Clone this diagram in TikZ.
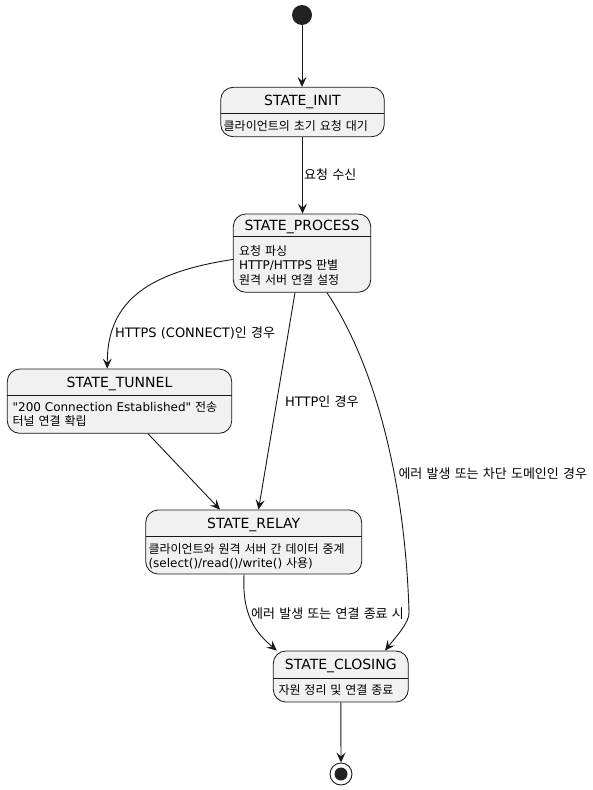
\documentclass[tikz,border=0pt]{standalone}
\usepackage{fontspec}
\setmainfont{DejaVu Sans}[Ligatures=TeXOff]
\newfontfamily\krfont{Noto Sans CJK KR}[Scale=1.0, WordSpace=1.7]
\newfontfamily\krlabelfont{Noto Sans CJK KR}[Scale=1.0, WordSpace=1.45]
\newcommand\hk[1]{{\krfont #1}}
\newcommand\hl[1]{{\krlabelfont #1}}
\usetikzlibrary{arrows.meta,calc}
\definecolor{boxfill}{HTML}{F1F1F1}
\definecolor{lineclr}{HTML}{181818}
\definecolor{dotclr}{HTML}{222222}
\tikzset{
  statebox/.style={draw=lineclr, fill=boxfill, rounded corners=12.5pt, line width=0.8pt, inner sep=0pt},
  titletext/.style={font=\fontsize{14}{16}\selectfont, anchor=base, inner sep=0pt, text=black},
  bodytext/.style={font=\fontsize{12}{14}\selectfont, anchor=base west, inner sep=0pt, text=black},
  edgelabel/.style={font=\fontsize{13}{15}\selectfont, anchor=base west, inner sep=0pt, text=black},
  conn/.style={draw=lineclr, line width=0.9pt, -{Stealth[length=10pt,width=9pt,inset=4pt]}},
  divider/.style={draw=lineclr, line width=0.8pt},
}
% name, left, top, right, bottom, divider y, title
\newcommand\mkstate[7]{%
  \node[statebox, minimum width={(#4-#2)*1pt}, minimum height={(#5-#3)*1pt}] (#1) at ({(#2+#4)/2},{(#3+#5)/2}) {};
  \draw[divider] (#2,#6) -- (#4,#6);
  \node[titletext] (#1-title) at ({(#2+#4)/2},{(#3+#6)/2+5}) {#7};
}
\begin{document}
\begin{tikzpicture}[x=1pt,y=-1pt]
\useasboundingbox[fill=white] (0,0) rectangle (593,790);

% start / end
\node[circle, fill=dotclr, minimum size=20pt, inner sep=0pt] (start) at (302,15) {};
\node[circle, draw=lineclr, fill=white, line width=0.9pt, minimum size=22pt, inner sep=0pt] (endo) at (341,774) {};
\node[circle, fill=dotclr, minimum size=13pt, inner sep=0pt] (endi) at (341,774) {};

% states
\mkstate{init}{220.7}{87.3}{384.3}{136.7}{113.3}{STATE\_INIT}
\node[bodytext] (init-b1) at (223.5,130) {\hk{클라이언트의 초기 요청 대기}};

\mkstate{process}{233.3}{214}{370.7}{292.3}{236.7}{STATE\_PROCESS}
\node[bodytext] (process-b1) at (239,255) {\hk{요청 파싱}};
\node[bodytext] (process-b2) at (239,269.5) {HTTP/HTTPS \hk{판별}};
\node[bodytext] (process-b3) at (239,284) {\hk{원격 서버 연결 설정}};

\mkstate{tunnel}{7.3}{369}{231.7}{433.3}{395.7}{STATE\_TUNNEL}
\node[bodytext] (tunnel-b1) at (12.5,411.5) {"200 Connection Established" \hk{전송}};
\node[bodytext] (tunnel-b2) at (12.5,425.8) {\hk{터널 연결 확립}};

\mkstate{relay}{145.7}{510}{361.7}{574}{536.7}{STATE\_RELAY}
\node[bodytext] (relay-b1) at (148.3,553) {\hk{클라이언트와 원격 서버 간 데이터 중계}};
\node[bodytext] (relay-b2) at (148.3,567) {(select()/read()/write() \hk{사용})};

\mkstate{closing}{273.3}{651}{408.3}{702}{678.3}{STATE\_CLOSING}
\node[bodytext] (closing-b1) at (278.3,694.3) {\hk{자원 정리 및 연결 종료}};

% connectors
\draw[conn] (start) -- (start |- init.north);
\draw[conn] (init.south) -- (init.south |- process.north);
\node[edgelabel] (l1) at (304,179.5) {\hl{요청 수신}};

\draw[conn] ($(process.west)+(0,6.3)$) .. controls (150,272) and (107,300) .. ($(tunnel.north)+(-12.2,0)$);
\node[edgelabel] (l2) at (115,337) {HTTPS (CONNECT)\hl{인 경우}};

\draw[conn] ($(tunnel.south)+(28.5,0)$) -- ($(relay.north)+(-33.7,0)$);

\draw[conn] ($(process.south)+(-7,0)$) -- ($(relay.north)+(4.8,0)$);
\node[edgelabel] (l3) at (285,406) {HTTP\hl{인 경우}};

\draw[conn] ($(process.south)+(25,0)$) .. controls (375,365) and (405,480) .. (409,612)
   .. controls (410,622) and (395,638) .. ($(closing.north)+(44.2,0)$);
\node[edgelabel] (l4) at (398.3,478) {\hl{에러 발생 또는 차단 도메인인 경우}};

\draw[conn] ($(relay.south)+(-9.7,0)$) .. controls (242,615) and (255,632) .. ($(closing.north)+(-64,0)$);
\node[edgelabel] (l5) at (251,618) {\hl{에러 발생 또는 연결 종료 시}};

\draw[conn] (closing.south) -- (endo.north);
\end{tikzpicture}
\end{document}
